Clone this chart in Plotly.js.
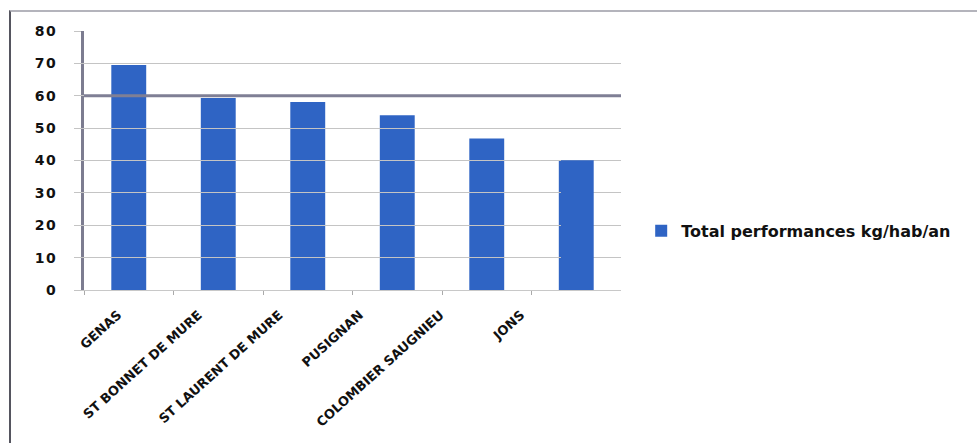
<!DOCTYPE html>
<html>
<head>
<meta charset="utf-8">
<script src="https://cdn.plot.ly/plotly-3.0.1.min.js"></script>
<style>
html,body{margin:0;padding:0;background:#fff;}
#frame{position:absolute;left:9px;top:10px;width:968px;height:433px;border-top:2px solid #b4b4bc;border-left:2px solid #55555f;box-sizing:border-box;}
#chart{position:absolute;left:0;top:0;width:977px;height:443px;}
#chart .ytick text{letter-spacing:1.5px;}
</style>
</head>
<body>
<div id="frame"></div>
<div id="chart"></div>
<script>
const categories = ["GENAS", "ST BONNET DE MURE", "ST LAURENT DE MURE", "PUSIGNAN", "COLOMBIER SAUGNIEU", "JONS"];
const values = [69.5, 59.3, 58.1, 54.0, 46.8, 40.1];
const seriesName = "Total performances kg/hab/an";
const yTicks = [0, 10, 20, 30, 40, 50, 60, 70, 80];

const trace = {
  type: "bar",
  x: categories,
  y: values,
  name: seriesName,
  marker: {color: "#2f64c4"},
  showlegend: true,
  hoverinfo: "x+y"
};

// invisible copy that carries the category labels on their own axis
const labelTrace = {
  type: "bar",
  x: categories,
  y: values,
  xaxis: "x2",
  yaxis: "y",
  marker: {color: "rgba(0,0,0,0)"},
  showlegend: false,
  hoverinfo: "skip"
};

const layout = {
  width: 977,
  height: 443,
  margin: {l: 60, r: 356, t: 31, b: 153, pad: 0},
  paper_bgcolor: "rgba(0,0,0,0)",
  plot_bgcolor: "rgba(0,0,0,0)",
  bargap: 0.61,
  showlegend: true,
  font: {family: "DejaVu Sans, sans-serif", color: "#111"},
  xaxis: {
    type: "category",
    domain: [0.0428, 1],
    showticklabels: false,
    ticks: "outside",
    tickson: "boundaries",
    ticklen: 4,
    tickcolor: "#aaaaaa",
    showline: true,
    linecolor: "#c8c8c8",
    linewidth: 1,
    showgrid: false,
    zeroline: false
  },
  xaxis2: {
    type: "category",
    domain: [0.0316, 0.8936],
    anchor: "y",
    tickangle: -42,
    tickfont: {size: 13, weight: "bold", color: "#111"},
    ticks: "",
    showline: false,
    showgrid: false,
    zeroline: false,
    ticklabelstandoff: 14
  },
  yaxis: {
    range: [0, 80],
    anchor: "x",
    tickvals: yTicks,
    ticktext: yTicks.map(String),
    tickfont: {size: 14, weight: "bold", color: "#111"},
    ticks: "outside",
    ticklen: 7,
    tickcolor: "#c4c4c4",
    showgrid: true,
    gridcolor: "#c4c4c4",
    gridwidth: 1,
    showline: true,
    linecolor: "#7c7c90",
    linewidth: 3,
    zeroline: false,
    ticklabelstandoff: 14
  },
  shapes: [{
    type: "line", xref: "x domain", yref: "y",
    x0: 0, x1: 1, y0: yTicks[6], y1: yTicks[6],
    line: {color: "#7f7f95", width: 3}, layer: "above"
  }],
  legend: {
    x: 1.036, xanchor: "left",
    y: 0.228, yanchor: "middle",
    font: {size: 16, weight: "bold", color: "#111"},
    itemwidth: 30,
    bgcolor: "rgba(0,0,0,0)"
  }
};

Plotly.newPlot("chart", [trace, labelTrace], layout, {displayModeBar: false, staticPlot: true});
</script>
</body>
</html>
